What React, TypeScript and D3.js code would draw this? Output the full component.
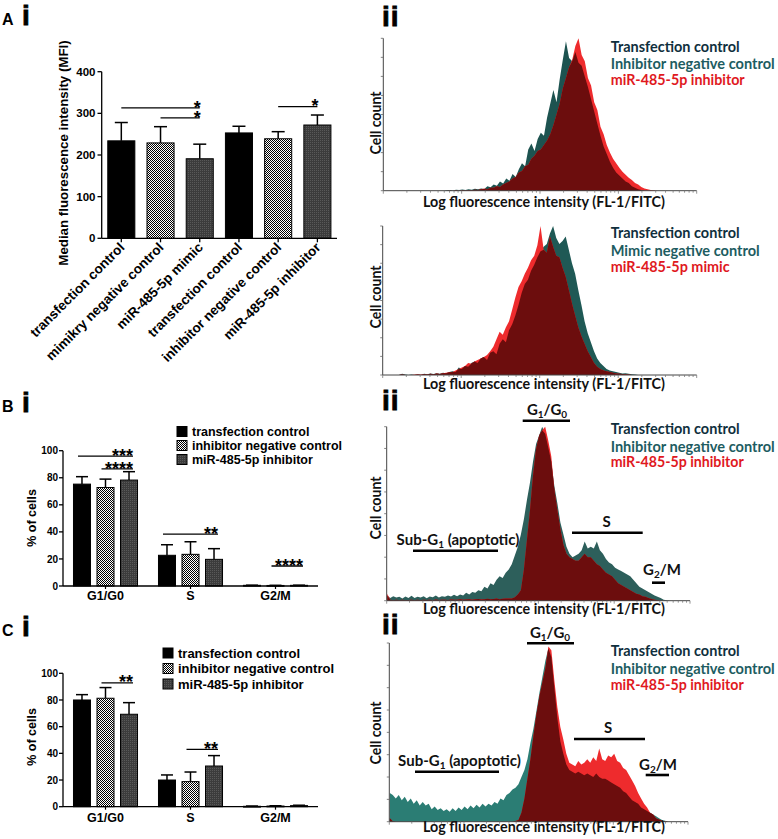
import React from 'react';
import * as d3 from 'd3';

// ---------------- DATA ----------------
// Panel A i : median fluorescence intensity
const aCategories = ['transfection control', 'mimikry negative control', 'miR-485-5p mimic', 'transfection control', 'inhibitor negative control', 'miR-485-5p inhibitor'];
const aMeans = [234, 229, 191, 253, 239, 272];
const aUpper = [278, 268, 226, 269, 256, 296];
const aKinds = ['solid', 'check', 'gray', 'solid', 'check', 'gray'];
const aTicks = [0, 100, 200, 300, 400];
const aSig = [
  { from: 0, to: 2, level: 313, label: '*' },
  { from: 1, to: 2, level: 289, label: '*' },
  { from: 4, to: 5, level: 316, label: '*' },
];

// Panels B i / C i : cell cycle
const phases = ['G1/G0', 'S', 'G2/M'];
const cycleSeries = ['transfection control', 'inhibitor negative control', 'miR-485-5p inhibitor'];
const cycleKinds = ['solid', 'check', 'gray'];
const pctTicks = [0, 20, 40, 60, 80, 100];

const bTransfection = [75.3, 22.7, 0.5];
const bTransfectionUp = [80.8, 30.5, 0.6];
const bNegative = [72.8, 23.4, 0.4];
const bNegativeUp = [79.0, 32.7, 0.5];
const bInhibitor = [78.3, 19.7, 0.5];
const bInhibitorUp = [84.5, 27.6, 0.6];
const bSig = [
  { phase: 0, from: 0, to: 2, level: 96, label: '***' },
  { phase: 0, from: 1, to: 2, level: 86.5, label: '****' },
  { phase: 1, from: 0, to: 2, level: 38.4, label: '**' },
  { phase: 2, from: 1, to: 2, level: 14.8, label: '****' },
];

const cTransfection = [80.0, 20.0, 0.3];
const cTransfectionUp = [84.0, 23.8, 0.5];
const cNegative = [81.3, 18.8, 0.5];
const cNegativeUp = [89.3, 26.0, 0.7];
const cInhibitor = [69.3, 30.5, 0.8];
const cInhibitorUp = [78.0, 38.3, 1.1];
const cSig = [
  { phase: 0, from: 1, to: 2, level: 92.8, label: '**' },
  { phase: 1, from: 1, to: 2, level: 43, label: '**' },
];

// Histograms (100 bins, % of max)
const aTopNeg = [
  0, 0, 0, 0, 0, 0, 0, 0, 0, 0,
  0, 0, 0, 0, 0, 0, 0, 0, 0, 0,
  0.3, 0.5, 0.2, 0.6, 0.4, 0.8, 0.5, 1.0, 0.7, 1.2,
  0.9, 1.5, 1.1, 3, 2.2, 4, 3.2, 6, 4.8, 8,
  6.5, 11, 9, 14, 18, 16, 27, 31, 26, 34,
  38, 36, 48, 57, 66, 58, 73, 86, 98, 87,
  85, 91, 84, 82, 75, 68, 60, 52, 44, 36,
  29, 24, 19, 15, 12, 10, 8, 6, 5, 3,
  2, 1, 0.5, 0, 0, 0, 0, 0, 0, 0,
  0, 0, 0, 0, 0, 0, 0, 0, 0, 0,
];
const aTopMiR = [
  0, 0, 0, 0, 0, 0, 0, 0, 0, 0,
  0, 0, 0, 0, 0, 0, 0, 0, 0, 0,
  0, 0.2, 0, 0.3, 0, 0.4, 0.2, 0.5, 0.3, 0.6,
  0.5, 1, 1.5, 1, 2, 2, 3, 2.5, 4, 5,
  6, 8, 9, 12, 13, 16, 17, 21, 23, 26,
  27, 30, 33, 37, 43, 50, 57, 67, 74, 81,
  86, 95, 100, 89, 85, 74, 69, 58, 53, 42,
  37, 30, 25, 21, 18, 15, 12.5, 10.5, 8.5, 7,
  5, 4, 2.5, 1.5, 1, 0.5, 0.3, 0, 0, 0,
  0, 0, 0, 0, 0, 0, 0, 0, 0, 0,
];
const aBotNeg = [
  0, 0, 0, 0, 0, 0, 0.8, 0.3, 0, 0.4,
  0, 0.3, 0, 0.8, 0.5, 1, 0.6, 1.2, 0.8, 1.5,
  1.2, 2, 2.5, 2, 5, 4, 6, 5.5, 8, 9,
  8, 11, 12, 10, 15, 16, 14, 21, 24, 22,
  30, 34, 40, 47, 55, 61, 64, 70, 74, 79,
  83, 86, 88, 95, 100, 92, 88, 90, 93, 84,
  75, 68, 57, 47, 36, 28, 22, 16, 11, 8,
  6, 4, 3, 2.5, 2, 1.5, 1, 1.2, 0.8, 0.5,
  0.3, 0, 0, 0, 0, 0, 0, 0, 0, 0,
  0, 0, 0, 0, 0, 0, 0, 0, 0, 0,
];
const aBotMiR = [
  0, 0, 0, 0, 0, 0, 0.4, 0, 0, 0,
  0.3, 0.5, 0.3, 0.6, 0.4, 0.8, 0.5, 1, 0.7, 1.2,
  1.5, 1.8, 2, 3, 4, 5, 6, 8, 7.5, 9,
  10, 11, 12, 13.5, 16, 19, 24, 29, 27, 32,
  36, 44, 52, 59, 63, 68, 72, 77, 80, 87,
  100, 84, 82, 93, 86, 80, 79, 72, 66, 57,
  48, 40, 32, 26, 21, 16, 12, 8, 5.6, 4,
  3, 2.5, 2, 1.5, 1, 0.8, 0.6, 0.5, 0.3, 0,
  0, 0, 0, 0, 0, 0, 0, 0, 0, 0,
  0, 0, 0, 0, 0, 0, 0, 0, 0, 0,
];
const bNeg = [
  3, 1.5, 2.5, 1.8, 2.2, 1.2, 2.4, 1.6, 2.8, 1.5,
  2.2, 1.8, 2.6, 1.4, 2.4, 2, 3, 1.8, 2.6, 2.2,
  3, 2.4, 3.4, 2.6, 3.6, 3, 4.5, 3.5, 5, 4.6,
  6, 5.5, 8, 7, 10, 9, 12, 14, 13, 16,
  18, 21, 26, 31, 38, 47, 58, 68, 80, 90,
  95, 100, 96, 88, 80, 66, 56, 45, 38, 31,
  27, 25, 26, 27, 29, 34, 30, 31, 30, 34,
  29, 27, 24, 22, 21, 19, 18, 17, 16, 15,
  14, 12, 10, 8, 7, 6, 5, 4, 3, 2.3,
  1.5, 0.6, 0.3, 0, 0, 0, 0, 0, 0, 0,
];
const bMiR = [
  4, 0.5, 0.3, 0.6, 0.2, 0.5, 0.3, 0.4, 0.6, 0.3,
  0.5, 0.3, 0.6, 0.4, 0.5, 0.3, 0.7, 0.4, 0.5, 0.6,
  0.4, 0.7, 0.5, 0.6, 0.8, 0.5, 0.7, 0.9, 0.6, 0.8,
  1, 0.7, 0.9, 1.1, 0.8, 1, 1.2, 0.9, 1.1, 1.3,
  1.2, 1.3, 2, 3.5, 6, 18, 35, 52, 72, 87,
  95, 98, 100, 92, 83, 64, 52, 41, 32, 27,
  25, 24, 23, 23, 25, 27, 25, 25, 23, 21,
  20, 18, 16, 15, 14, 12, 10, 9, 8, 7,
  6, 5, 4, 3.5, 2.5, 2.3, 1.5, 1, 0.5, 0.3,
  0, 0, 0, 0, 0, 0, 0, 0, 0, 0,
];
const cNeg = [
  16, 15, 13, 15, 12, 14, 11, 13, 10, 12,
  9, 11, 9, 10, 7, 8.5, 6.5, 7.5, 6, 7,
  5.5, 7.5, 6, 8, 6.5, 8.5, 7, 9, 7.5, 9.5,
  8, 10, 8.5, 10, 9, 11, 10, 13, 12, 15,
  16, 18, 19, 21, 25, 29, 35, 44, 52, 62,
  72, 81, 90, 97, 92, 75, 58, 45, 38, 32,
  29, 28, 27, 28, 27, 26, 27, 26, 25, 27,
  25, 24, 24, 23, 22, 21, 20, 19, 17, 16,
  14, 12, 11, 10, 8, 7, 6, 5, 4, 3,
  2, 1, 0.5, 0, 0, 0, 0, 0, 0, 0,
];
const cMiR = [
  2, 0.3, 0, 0, 0, 0, 0, 0, 0, 0,
  0, 0, 0, 0, 0, 0, 0, 0, 0, 0,
  0, 0, 0, 0, 0, 0, 0, 0, 0, 0,
  0, 0, 0, 0, 0, 0, 0, 0, 0, 0,
  0, 0, 0.4, 1, 5, 13, 24, 35, 48, 60,
  70, 78, 86, 98, 96, 79, 64, 53, 46, 38,
  33, 32, 31, 34, 32, 33, 35, 33, 36, 34,
  41, 35, 34, 37, 36, 38, 34, 33, 30, 29,
  26, 23, 20, 16, 13, 10, 8, 5, 4, 2,
  1.2, 0.6, 0.3, 0, 0, 0, 0, 0, 0, 0,
];

const legendInhibitor = ['Transfection control', 'Inhibitor negative control', 'miR-485-5p inhibitor'];
const legendMimic = ['Transfection control', 'Mimic negative control', 'miR-485-5p mimic'];
const xAxisLabel = 'Log fluorescence intensity (FL-1/FITC)';

// ---------------- STYLE ----------------
const FA = "'Liberation Sans', Arial, sans-serif";
const FC = "Lato, 'Open Sans', sans-serif";
const RED = '#ee2b2d';
const MAROON = '#6c0d0d';
const LEG_COLORS = ['#0f2f3d', '#1d5c61', '#e0191e'];

const fillFor = (k: string) => (k === 'solid' ? '#000' : k === 'check' ? 'url(#check)' : 'url(#gray)');

function Stars({ x, cy, label }: { x: number; cy: number; label: string }) {
  const fs = 18;
  return (
    <text x={x} y={cy + 0.56 * fs} textAnchor="end" fontFamily={FA} fontWeight="bold" fontSize={fs}>
      {label}
    </text>
  );
}

function PanelAi() {
  const x = d3.scaleBand<number>().domain(d3.range(aMeans.length)).range([101.7, 337]).paddingInner(0.31).paddingOuter(0.155);
  const y = d3.scaleLinear().domain([0, 400]).range([238.3, 71.7]);
  const bw = x.bandwidth();
  const cx = (i: number) => (x(i) as number) + bw / 2;
  return (
    <g>
      {aMeans.map((v, i) => (
        <g key={i}>
          <line x1={cx(i)} x2={cx(i)} y1={y(v)} y2={y(aUpper[i])} stroke="#000" strokeWidth={1.5} />
          <line x1={cx(i) - 6.5} x2={cx(i) + 6.5} y1={y(aUpper[i])} y2={y(aUpper[i])} stroke="#000" strokeWidth={1.5} />
          <rect x={x(i)} y={y(v)} width={bw} height={y(0) - y(v)} fill={fillFor(aKinds[i])} stroke="#000" strokeWidth={1} />
        </g>
      ))}
      <line x1={101.7} x2={101.7} y1={y(0)} y2={y(400)} stroke="#000" strokeWidth={1.3} />
      <line x1={101.7} x2={337} y1={y(0)} y2={y(0)} stroke="#000" strokeWidth={1.3} />
      {aTicks.map((t) => (
        <g key={t}>
          <line x1={97.5} x2={101.7} y1={y(t)} y2={y(t)} stroke="#000" strokeWidth={1.3} />
          <text x={95.5} y={y(t) + 4} textAnchor="end" fontFamily={FA} fontWeight="bold" fontSize={11.5}>
            {t}
          </text>
        </g>
      ))}
      {aCategories.map((c, i) => (
        <g key={i}>
          <line x1={cx(i)} x2={cx(i)} y1={y(0)} y2={y(0) + 4} stroke="#000" strokeWidth={1.3} />
          <text transform={`translate(${cx(i) + 4},${y(0) + 10}) rotate(-45)`} textAnchor="end" fontFamily={FA} fontWeight="bold" fontSize={13.5}>
            {c}
          </text>
        </g>
      ))}
      <text transform="translate(68,153) rotate(-90)" textAnchor="middle" fontFamily={FA} fontWeight="bold" fontSize={13.3}>
        Median fluorescence intensity (MFI)
      </text>
      {aSig.map((s, i) => (
        <g key={i}>
          <line x1={cx(s.from)} x2={cx(s.to)} y1={y(s.level)} y2={y(s.level)} stroke="#000" strokeWidth={1.3} />
          <Stars x={cx(s.to) + 1} cy={y(s.level) - 4.5} label={s.label} />
        </g>
      ))}
    </g>
  );
}

type CycleProps = {
  y0: number;
  y100: number;
  values: number[][];
  uppers: number[][];
  sig: { phase: number; from: number; to: number; level: number; label: string }[];
  legX: number;
  legRows: number[];
  legFont: number;
  ylabelY: number;
  xlabelBase: number;
};

function CyclePanel(p: CycleProps) {
  const outer = d3.scaleBand<number>().domain(d3.range(phases.length)).range([63, 318]).paddingInner(0.17).paddingOuter(0.085);
  const inner = d3.scaleBand<number>().domain(d3.range(cycleSeries.length)).range([0, outer.bandwidth()]).paddingInner(0.277).paddingOuter(0.1385);
  const y = d3.scaleLinear().domain([0, 100]).range([p.y0, p.y100]);
  const bw = inner.bandwidth();
  const bx = (ph: number, s: number) => (outer(ph) as number) + (inner(s) as number);
  const bc = (ph: number, s: number) => bx(ph, s) + bw / 2;
  return (
    <g>
      {p.values.map((ser, s) =>
        ser.map((v, ph) => (
          <g key={`${s}-${ph}`}>
            <line x1={bc(ph, s)} x2={bc(ph, s)} y1={y(v)} y2={y(p.uppers[s][ph])} stroke="#000" strokeWidth={1.5} />
            <line x1={bc(ph, s) - 6} x2={bc(ph, s) + 6} y1={y(p.uppers[s][ph])} y2={y(p.uppers[s][ph])} stroke="#000" strokeWidth={1.5} />
            <rect x={bx(ph, s)} y={y(v)} width={bw} height={Math.max(0.8, y(0) - y(v))} fill={fillFor(cycleKinds[s])} stroke="#000" strokeWidth={1} />
          </g>
        ))
      )}
      <line x1={63} x2={63} y1={y(0)} y2={y(100)} stroke="#000" strokeWidth={1.3} />
      <line x1={63} x2={318} y1={y(0)} y2={y(0)} stroke="#000" strokeWidth={1.3} />
      {pctTicks.map((t) => (
        <g key={t}>
          <line x1={59} x2={63} y1={y(t)} y2={y(t)} stroke="#000" strokeWidth={1.3} />
          <text x={58} y={y(t) + 3.6} textAnchor="end" fontFamily={FA} fontWeight="bold" fontSize={10}>
            {t}
          </text>
        </g>
      ))}
      {phases.map((ph, i) => (
        <g key={ph}>
          <line x1={(outer(i) as number) + outer.bandwidth() / 2} x2={(outer(i) as number) + outer.bandwidth() / 2} y1={y(0)} y2={y(0) + 3} stroke="#000" strokeWidth={1.2} />
          <text x={(outer(i) as number) + outer.bandwidth() / 2} y={p.xlabelBase} textAnchor="middle" fontFamily={FA} fontWeight="bold" fontSize={12.5}>
            {ph}
          </text>
        </g>
      ))}
      <text transform={`translate(36,${p.ylabelY}) rotate(-90)`} textAnchor="middle" fontFamily={FA} fontWeight="bold" fontSize={12.5}>
        % of cells
      </text>
      {p.sig.map((s, i) => (
        <g key={i}>
          <line x1={bc(s.phase, s.from) - 4} x2={bc(s.phase, s.to) + 4} y1={y(s.level)} y2={y(s.level)} stroke="#000" strokeWidth={1.3} />
          <Stars x={bc(s.phase, s.to) + 4} cy={y(s.level) - 4.5} label={s.label} />
        </g>
      ))}
      {cycleSeries.map((name, i) => (
        <g key={name}>
          <rect x={p.legX} y={p.legRows[i] - 5} width={10} height={10} fill={fillFor(cycleKinds[i])} stroke="#000" strokeWidth={1} />
          <text x={p.legX + 15} y={p.legRows[i] + p.legFont * 0.36} fontFamily={FA} fontWeight="bold" fontSize={p.legFont}>
            {name}
          </text>
        </g>
      ))}
    </g>
  );
}

type Ann = { text: 'G1G0' | 'S' | 'Sub' | 'G2M'; x: number; base: number; anchor: 'start' | 'middle'; ly: number; lx1: number; lx2: number };

type HistProps = {
  x0: number;
  x1: number;
  yTop: number;
  yBot: number;
  neg: number[];
  mir: number[];
  teal: string;
  legend: string[];
  legBase: number[];
  legWidths: number[];
  cellY: number;
  xlabBase: number;
  anns?: Ann[];
};

function AnnText({ a }: { a: Ann }) {
  const fs = 15;
  const sub = { fontSize: 10, dy: 3 };
  let content: React.ReactNode = null;
  if (a.text === 'G1G0')
    content = (
      <>
        <tspan>G</tspan>
        <tspan fontSize={sub.fontSize} dy={sub.dy}>1</tspan>
        <tspan dy={-sub.dy}>/G</tspan>
        <tspan fontSize={sub.fontSize} dy={sub.dy}>0</tspan>
      </>
    );
  else if (a.text === 'S') content = <tspan>S</tspan>;
  else if (a.text === 'Sub')
    content = (
      <>
        <tspan>Sub-G</tspan>
        <tspan fontSize={sub.fontSize} dy={sub.dy}>1</tspan>
        <tspan dy={-sub.dy}> (apoptotic)</tspan>
      </>
    );
  else
    content = (
      <>
        <tspan>G</tspan>
        <tspan fontSize={sub.fontSize} dy={sub.dy}>2</tspan>
        <tspan dy={-sub.dy}>/M</tspan>
      </>
    );
  return (
    <g>
      <text x={a.x} y={a.base} textAnchor={a.anchor} fontFamily={FC} fontWeight="bold" fontSize={fs} fill="#111">
        {content}
      </text>
      <line x1={a.lx1} x2={a.lx2} y1={a.ly} y2={a.ly} stroke="#000" strokeWidth={2.6} />
    </g>
  );
}

function Histogram(p: HistProps) {
  const n = p.neg.length;
  const x = d3.scaleLinear().domain([0, n - 1]).range([p.x0 + 0.5, p.x1 - 2]);
  const y = d3.scaleLinear().domain([0, 100]).range([p.yBot, p.yTop]);
  const area = d3
    .area<number>()
    .x((_, i) => x(i))
    .y0(p.yBot)
    .y1((d) => y(d))
    .curve(d3.curveLinear);
  const overlap = p.neg.map((v, i) => Math.min(v, p.mir[i]));
  const logX = d3.scaleLog().domain([1, 10000]).range([p.x0, p.x1]);
  const xt: { v: number; major: boolean }[] = [];
  for (let k = 0; k < 4; k++) for (let m = 1; m < 10; m++) xt.push({ v: m * Math.pow(10, k), major: m === 1 });
  xt.push({ v: 10000, major: true });
  const yt = d3.range(0, 9).map((i) => p.yBot - ((p.yBot - p.yTop) * i) / 8);
  return (
    <g>
      <path d={area(p.neg) || ''} fill={p.teal} />
      <path d={area(p.mir) || ''} fill={RED} />
      <path d={area(overlap) || ''} fill={MAROON} />
      <line x1={p.x0} x2={p.x0} y1={p.yTop} y2={p.yBot} stroke="#444" strokeWidth={1} />
      <line x1={p.x0} x2={p.x1} y1={p.yBot} y2={p.yBot} stroke="#444" strokeWidth={1} />
      {yt.map((ty, i) => (
        <line key={i} x1={p.x0 - 2.5} x2={p.x0} y1={ty} y2={ty} stroke="#666" strokeWidth={0.8} />
      ))}
      {xt.map((t, i) => (
        <line key={i} x1={logX(t.v)} x2={logX(t.v)} y1={p.yBot} y2={p.yBot + (t.major ? 3 : 2)} stroke="#777" strokeWidth={0.8} />
      ))}
      <text transform={`translate(381,${p.cellY}) rotate(-90)`} textAnchor="middle" fontFamily={FC} fontWeight="bold" fontSize={15.5} fill="#111" textLength={63} lengthAdjust="spacingAndGlyphs">
        Cell count
      </text>
      <text x={544} y={p.xlabBase} textAnchor="middle" fontFamily={FC} fontWeight="bold" fontSize={15.5} fill="#111" textLength={242} lengthAdjust="spacingAndGlyphs">
        {xAxisLabel}
      </text>
      {p.legend.map((l, i) => (
        <text key={i} x={610.7} y={p.legBase[i]} fontFamily={FC} fontWeight="bold" fontSize={15} fill={LEG_COLORS[i]} textLength={p.legWidths[i]} lengthAdjust="spacingAndGlyphs">
          {l}
        </text>
      ))}
      {(p.anns || []).map((a, i) => (
        <AnnText key={i} a={a} />
      ))}
    </g>
  );
}

function PanelLabel({ letter, x, base, ii }: { letter?: string; x: number; base: number; ii?: boolean }) {
  return (
    <g fontFamily={FA} fontWeight="bold">
      {letter && (
        <text x={x} y={base} fontSize={16}>
          {letter}
        </text>
      )}
      <text x={letter ? x + 20 : x} y={base} fontSize={28} stroke="#000" strokeWidth={0.8} letterSpacing={1}>
        {ii ? 'ii' : 'i'}
      </text>
    </g>
  );
}

export default function App() {
  return (
    <svg width={778} height={839} viewBox="0 0 778 839" style={{ position: 'absolute', left: 0, top: 0, background: '#fff' }}>
      <defs>
        <pattern id="check" width="2" height="2" patternUnits="userSpaceOnUse">
          <rect width="2" height="2" fill="#fff" />
          <rect width="1" height="1" fill="#000" />
          <rect x="1" y="1" width="1" height="1" fill="#000" />
        </pattern>
        <pattern id="gray" width="2" height="2" patternUnits="userSpaceOnUse">
          <rect width="2" height="2" fill="#3c3c3c" />
          <rect width="1" height="1" fill="#595959" />
        </pattern>
      </defs>
      <rect width={778} height={839} fill="#fff" />

      <PanelLabel letter="A" x={2} base={25} />
      <PanelLabel letter="B" x={2} base={411.5} />
      <PanelLabel letter="C" x={2} base={636} />
      <PanelLabel x={382} base={25.5} ii />
      <PanelLabel x={382} base={410} ii />
      <PanelLabel x={382} base={634} ii />

      <PanelAi />

      <CyclePanel
        y0={586}
        y100={450.7}
        values={[bTransfection, bNegative, bInhibitor]}
        uppers={[bTransfectionUp, bNegativeUp, bInhibitorUp]}
        sig={bSig}
        legX={177}
        legRows={[431.5, 445.5, 459.5]}
        legFont={12.5}
        ylabelY={518}
        xlabelBase={600}
      />
      <CyclePanel
        y0={806.7}
        y100={673.3}
        values={[cTransfection, cNegative, cInhibitor]}
        uppers={[cTransfectionUp, cNegativeUp, cInhibitorUp]}
        sig={cSig}
        legX={163}
        legRows={[653, 668.5, 684]}
        legFont={13}
        ylabelY={737}
        xlabelBase={821.7}
      />

      <Histogram x0={383.3} x1={696.7} yTop={38.3} yBot={190.7} neg={aTopNeg} mir={aTopMiR} teal="#1d5350" legend={legendInhibitor} legBase={[52, 69, 85]} legWidths={[129, 164, 134]} cellY={123} xlabBase={207} />
      <Histogram x0={382.7} x1={696.7} yTop={226} yBot={375} neg={aBotNeg} mir={aBotMiR} teal="#1f5955" legend={legendMimic} legBase={[238, 256, 272]} legWidths={[129, 149, 119]} cellY={297} xlabBase={389} />
      <Histogram
        x0={386.7}
        x1={690}
        yTop={426.7}
        yBot={600.7}
        neg={bNeg}
        mir={bMiR}
        teal="#2d5f5b"
        legend={legendInhibitor}
        legBase={[434, 452, 467]}
        legWidths={[129, 164, 133]}
        cellY={508}
        xlabBase={614}
        anns={[
          { text: 'G1G0', x: 547, base: 415, anchor: 'middle', ly: 420.7, lx1: 522.7, lx2: 570 },
          { text: 'S', x: 606.7, base: 527, anchor: 'middle', ly: 532.7, lx1: 572, lx2: 642.7 },
          { text: 'Sub', x: 458, base: 545, anchor: 'middle', ly: 550.7, lx1: 413, lx2: 498 },
          { text: 'G2M', x: 643, base: 575, anchor: 'start', ly: 582.7, lx1: 652, lx2: 665 },
        ]}
      />
      <Histogram
        x0={389.3}
        x1={688}
        yTop={643}
        yBot={821.7}
        neg={cNeg}
        mir={cMiR}
        teal="#2b7d74"
        legend={legendInhibitor}
        legBase={[656, 674, 690]}
        legWidths={[129, 164, 133]}
        cellY={733}
        xlabBase={832}
        anns={[
          { text: 'G1G0', x: 550, base: 638, anchor: 'middle', ly: 643.3, lx1: 527, lx2: 574 },
          { text: 'S', x: 608, base: 733, anchor: 'middle', ly: 739, lx1: 574, lx2: 645 },
          { text: 'Sub', x: 459.5, base: 766, anchor: 'middle', ly: 771.7, lx1: 415, lx2: 499 },
          { text: 'G2M', x: 639, base: 770, anchor: 'start', ly: 775, lx1: 645.7, lx2: 669 },
        ]}
      />
    </svg>
  );
}
